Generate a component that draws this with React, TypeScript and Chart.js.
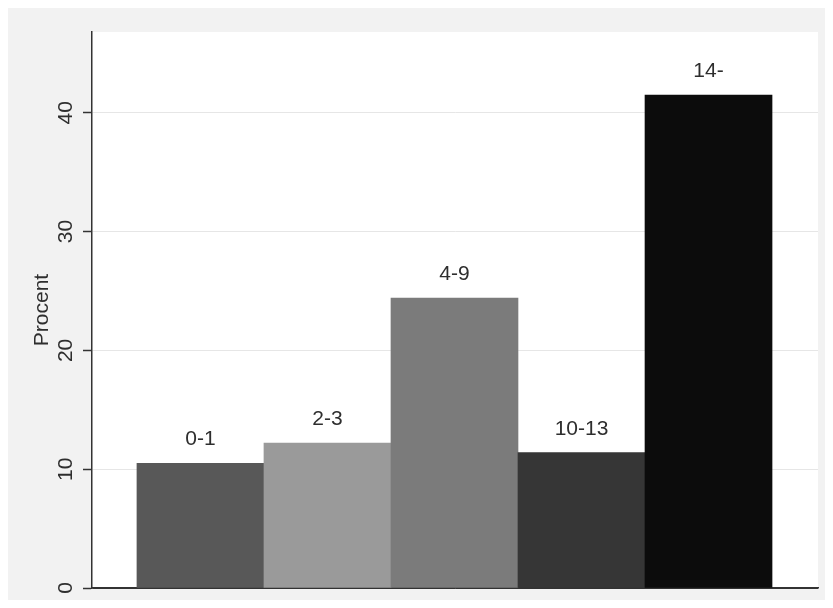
import React, { useEffect, useRef } from "react";
import { Chart, registerables } from "chart.js";

Chart.register(...registerables);

// ---- data ----
const categories = ["0-1", "2-3", "4-9", "10-13", "14-"];
const percents = [10.5, 12.2, 24.4, 11.4, 41.5];
const barColors = ["#585858", "#9a9a9a", "#7b7b7b", "#363636", "#0c0c0c"];
const yTicks = [0, 10, 20, 30, 40];
const yTickLabels = ["0", "10", "20", "30", "40"];
const yTitle = "Procent";

const Y_MAX = 46.8;
const X_MIN = -0.854;
const X_MAX = 4.862;

const CANVAS_W = 825;
const CANVAS_H = 592;
const FONT = '21px "Liberation Sans", Arial, sans-serif';
const TEXT_COLOR = "#2e2e2e";
const AXIS_COLOR = "#333333";

const decorPlugin = {
  id: "decor",
  beforeDraw(chart: any) {
    const { ctx, chartArea: a, width, height } = chart;
    ctx.save();
    ctx.fillStyle = "#f2f2f2";
    ctx.fillRect(0, 0, width, height);
    ctx.fillStyle = "#ffffff";
    ctx.fillRect(a.left, a.top, a.right - a.left, a.bottom - a.top);
    ctx.restore();
  },
  afterDraw(chart: any) {
    const { ctx, chartArea: a } = chart;
    const yScale = chart.scales.y;
    ctx.save();
    ctx.font = FONT;
    ctx.fillStyle = TEXT_COLOR;
    ctx.textAlign = "center";
    ctx.textBaseline = "alphabetic";

    // bar labels
    const meta = chart.getDatasetMeta(0);
    meta.data.forEach((el: any, i: number) => {
      ctx.fillText(categories[i], el.x, el.y - 18);
    });

    // y tick labels (rotated)
    yTicks.forEach((v, i) => {
      const py = yScale.getPixelForValue(v);
      ctx.save();
      ctx.translate(a.left - 20.3, py);
      ctx.rotate(-Math.PI / 2);
      ctx.fillText(yTickLabels[i], 0, 0);
      ctx.restore();
    });

    // y axis title
    ctx.save();
    ctx.translate(a.left - 43.7, (a.top + a.bottom) / 2);
    ctx.rotate(-Math.PI / 2);
    ctx.fillText(yTitle, 0, 0);
    ctx.restore();

    ctx.restore();
  },
};

export default function App() {
  const canvasRef = useRef<HTMLCanvasElement | null>(null);

  useEffect(() => {
    const canvas = canvasRef.current;
    if (!canvas) return;
    const chart = new Chart(canvas, {
      type: "bar",
      data: {
        datasets: [
          {
            data: percents.map((v, i) => ({ x: i, y: v })),
            backgroundColor: barColors,
            borderWidth: 0,
            categoryPercentage: 1,
            barPercentage: 1,
          },
        ],
      },
      options: {
        animation: false,
        responsive: false,
        devicePixelRatio: 1,
        layout: { padding: { top: 24, right: 15, left: 0, bottom: 0 } },
        plugins: {
          legend: { display: false },
          tooltip: { enabled: false },
          title: { display: false },
        },
        scales: {
          x: {
            type: "linear",
            min: X_MIN,
            max: X_MAX,
            offset: false,
            grid: { display: false, drawTicks: false, offset: false },
            border: { display: true, color: AXIS_COLOR, width: 1.5 },
            ticks: { display: false },
            afterBuildTicks: (s: any) => {
              s.ticks = categories.map((_, i) => ({ value: i }));
            },
            afterFit: (s: any) => {
              s.height = 12;
            },
          },
          y: {
            type: "linear",
            min: 0,
            max: Y_MAX,
            grid: {
              color: (c: any) => (c.tick && c.tick.value === 0 ? AXIS_COLOR : "#e6e6e6"),
              lineWidth: 1,
              drawTicks: true,
              tickLength: 9,
              tickColor: AXIS_COLOR,
              tickWidth: 1.5,
            },
            border: { display: true, color: AXIS_COLOR, width: 1.5 },
            ticks: { display: false },
            afterBuildTicks: (s: any) => {
              s.ticks = yTicks.map((v) => ({ value: v }));
            },
            afterFit: (s: any) => {
              s.width = 84;
            },
          },
        },
      } as any,
      plugins: [decorPlugin],
    });
    return () => chart.destroy();
  }, []);

  return (
    <canvas
      ref={canvasRef}
      width={CANVAS_W}
      height={CANVAS_H}
      style={{ display: "block", width: CANVAS_W + "px", height: CANVAS_H + "px" }}
    />
  );
}
